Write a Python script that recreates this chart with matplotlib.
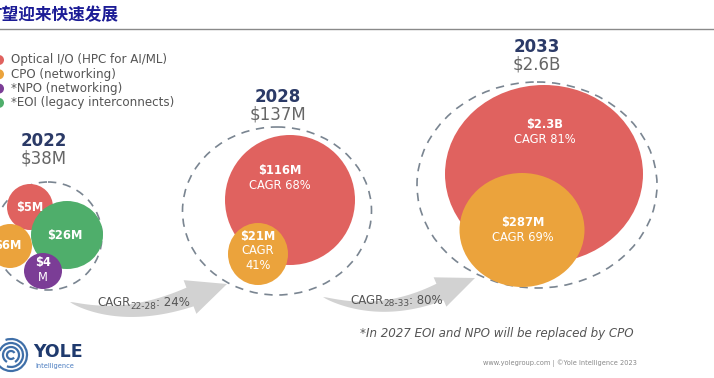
import numpy as np
import matplotlib.pyplot as plt
from matplotlib.patches import Ellipse, Circle, Polygon, Arc

plt.rcParams['font.family'] = ['DejaVu Sans']

# --- données ---
titre = "有望迎来快速发展"
legende = ["Optical I/O (HPC for AI/ML)", "CPO (networking)",
           "*NPO (networking)", "*EOI (legacy interconnects)"]
annees = ["2022", "2028", "2033"]
totaux = ["$38M", "$137M", "$2.6B"]
bulles_2022 = ["$5M", "$26M", "$6M", "$4\nM"]
bulles_2028 = ["$116M\nCAGR 68%", "$21M\nCAGR\n41%"]
bulles_2033 = ["$2.3B\nCAGR 81%", "$287M\nCAGR 69%"]
periodes = ["22-28", "28-33"]
cagr = ["24%", "80%"]
note = "*In 2027 EOI and NPO will be replaced by CPO"
source = "www.yolegroup.com | ©Yole Intelligence 2023"

ROUGE, ORANGE, VIOLET, VERT = "#e0625f", "#eba33c", "#7b3d96", "#4fae6b"
couleurs_legende = [ROUGE, ORANGE, VIOLET, VERT]
NAVY, GRIS = "#2b3a67", "#666666"

# mise en page (pixels) : centre x, centre y, largeur, hauteur
cercles_2022 = [(30, 207, 46, 46, ROUGE), (67, 235, 72, 68, VERT),
                (10, 246, 44, 44, ORANGE), (43, 271, 38, 36, VIOLET)]
cercles_2028 = [(290, 200, 130, 130, ROUGE), (258, 254, 60, 62, ORANGE)]
cercles_2033 = [(544, 174, 198, 178, ROUGE), (522, 230, 125, 114, ORANGE)]
pos_2022 = [(30, 208), (65, 235), (8, 246), (43, 270)]
pos_2028 = [(280, 178), (258, 251)]
pos_2033 = [(545, 132), (523, 230)]
pointilles = [(48, 236, 108, 108), (277, 211, 189, 168), (537, 185, 240, 206)]
pos_titres = [(44, 141), (278, 97), (537, 47)]
pos_cagr = [(97, 303), (350, 300)]

fig = plt.figure(figsize=(7.14, 3.78), dpi=100)
ax = fig.add_axes([0, 0, 1, 1])
ax.set_xlim(0, 714)
ax.set_ylim(378, 0)
ax.axis('off')
rend = fig.canvas.get_renderer()

# titre
ax.text(-14, 15, titre, fontsize=12, color="#1c1c96", va='center', ha='left',
        family=['Noto Sans CJK SC', 'DejaVu Sans'], fontweight='bold')
ax.plot([0, 714], [29, 29], color="#8a8a8a", lw=1)

# légende
for i, (lab, c) in enumerate(zip(legende, couleurs_legende)):
    y = 60 + i * 14.3
    ax.add_patch(Circle((-1, y), 5, color=c, lw=0))
    ax.text(11, y, lab, fontsize=8.6, color="#555555", va='center')

# flèches courbes
def fleche(p0, p1, p2, tip, w_corps, w_tete):
    t = np.linspace(0, 1, 40)
    p0, p1, p2, tip = map(np.array, (p0, p1, p2, tip))
    pts = ((1 - t)**2)[:, None] * p0 + (2 * (1 - t) * t)[:, None] * p1 + (t**2)[:, None] * p2
    d = (2 * (1 - t))[:, None] * (p1 - p0) + (2 * t)[:, None] * (p2 - p1)
    d = d / np.linalg.norm(d, axis=1)[:, None]
    n = np.column_stack([-d[:, 1], d[:, 0]])
    w = w_corps * t**0.7
    haut = pts + n * w[:, None]
    bas = pts - n * w[:, None]
    nd = n[-1]
    poly = np.vstack([haut, [p2 + nd * w_tete], [tip], [p2 - nd * w_tete], bas[::-1]])
    ax.add_patch(Polygon(poly, closed=True, color="#d2d2d2", lw=0, zorder=1))

fleche((70, 302), (124, 322), (190, 297), (227, 284), 10, 18)
fleche((323, 297), (380, 318), (440, 292), (475, 278), 9, 16)

def largeur(txt):
    bb = txt.get_window_extent(renderer=rend)
    return bb.width

for (x, y), per, val in zip(pos_cagr, periodes, cagr):
    t1 = ax.text(x, y, "CAGR", fontsize=8.5, color="#555555", va='center', zorder=3)
    x2 = x + largeur(t1)
    t2 = ax.text(x2, y + 3.5, per, fontsize=6.5, color="#555555", va='center', zorder=3)
    x3 = x2 + largeur(t2)
    ax.text(x3, y, ": " + val, fontsize=8.5, color="#555555", va='center', zorder=3)

# bulles
for cx, cy, w, h in pointilles:
    ax.add_patch(Ellipse((cx, cy), w, h, fill=False, ec="#7a8591", lw=1.2,
                         ls=(0, (5, 4)), zorder=2))
for groupe in (cercles_2022, cercles_2028, cercles_2033):
    for cx, cy, w, h, c in groupe:
        ax.add_patch(Ellipse((cx, cy), w, h, color=c, lw=0, zorder=3))

def etiquette(x, y, texte, fs):
    lignes = texte.split("\n")
    for k, l in enumerate(lignes):
        yy = y + (k - (len(lignes) - 1) / 2) * fs * 1.75
        ax.text(x, yy, l, fontsize=fs, color="white", ha='center', va='center',
                fontweight='bold' if k == 0 else 'normal', zorder=4)

for (x, y), t in zip(pos_2022, bulles_2022):
    etiquette(x, y, t, 8.3)
for (x, y), t in zip(pos_2028, bulles_2028):
    etiquette(x, y, t, 8.3)
for (x, y), t in zip(pos_2033, bulles_2033):
    etiquette(x, y, t, 8.3)

for (x, y), an, tot in zip(pos_titres, annees, totaux):
    ax.text(x, y, an, fontsize=12, fontweight='bold', color=NAVY, ha='center', va='center')
    ax.text(x, y + 17, tot, fontsize=12, color=GRIS, ha='center', va='center')

# notes
ax.text(497, 334, note, fontsize=8.6, style='italic', color="#555555", ha='center', va='center')
ax.text(560, 363, source, fontsize=4.8, color="#888888", ha='center', va='center')

# logo
for r, a1, a2 in [(4, 40, 330), (8, 120, 420), (12, 200, 470), (16, 250, 520)]:
    ax.add_patch(Arc((11, 355), 2 * r, 2 * r, theta1=a1, theta2=a2,
                     color="#3f6fa8", lw=1.6))
ax.text(33, 352, "YOLE", fontsize=12.5, fontweight='bold', color="#1f3a6e", va='center')
ax.text(35, 366, "Intelligence", fontsize=4.8, color="#4a7cc0", va='center')

fig.savefig("out.png", dpi=100)
